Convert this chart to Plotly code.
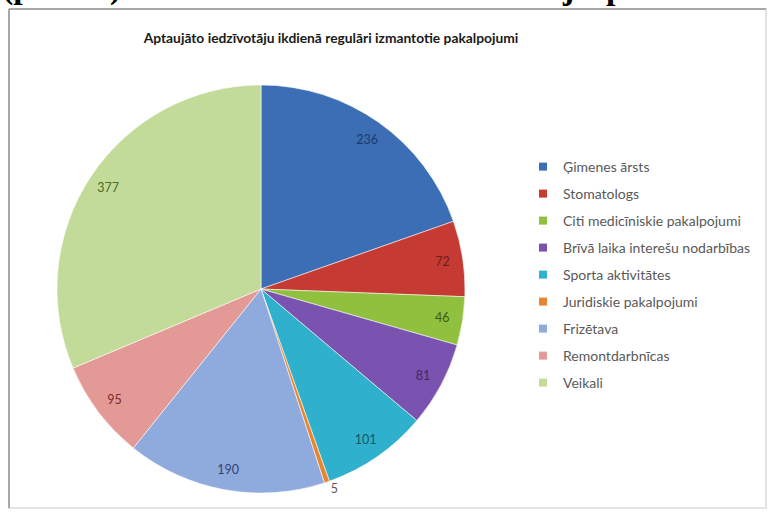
import plotly.graph_objects as go

# ---- data ----
labels = [
    "Ģimenes ārsts",
    "Stomatologs",
    "Citi medicīniskie pakalpojumi",
    "Brīvā laika interešu nodarbības",
    "Sporta aktivitātes",
    "Juridiskie pakalpojumi",
    "Frizētava",
    "Remontdarbnīcas",
    "Veikali",
]
values = [236, 72, 46, 81, 101, 5, 190, 95, 377]
title_text = "Aptaujāto iedzīvotāju ikdienā regulāri izmantotie pakalpojumi"

# ---- styles ----
slice_colors = ["#3C6EB6", "#C53A33", "#8FC03E", "#7A52B0", "#2FB0CC",
                "#E8862F", "#8FAADD", "#E39996", "#C3DB99"]
label_colors = ["#1E3A6A", "#6E1E1B", "#3E5A18", "#3E2862", "#17566A",
                "#5A5A5A", "#2F4670", "#7C2E2B", "#4E6A24"]
text_pos = ["outside" if v < 10 else "inside" for v in values]

W, H = 769, 512
cx, cy, r = 261, 289, 204
dom_x = [(cx - r) / W, (cx + r) / W]
dom_y = [1 - (cy + r) / H, 1 - (cy - r) / H]

fig = go.Figure()

# main pie
fig.add_trace(go.Pie(
    labels=labels, values=values, sort=False, direction="clockwise", rotation=0,
    marker=dict(colors=slice_colors, line=dict(color="rgba(255,255,255,0.55)", width=1)),
    textinfo="none", showlegend=False, domain=dict(x=dom_x, y=dom_y),
    hoverinfo="label+value",
))

# transparent ring carrying the value labels near the rim
fig.add_trace(go.Pie(
    labels=labels, values=values, sort=False, direction="clockwise", rotation=0,
    hole=0.8,
    marker=dict(colors=["rgba(0,0,0,0)"] * len(values), line=dict(width=0)),
    textinfo="value", textposition=text_pos, insidetextorientation="horizontal",
    textfont=dict(family="Lato", size=12.5, color=label_colors),
    showlegend=False, hoverinfo="skip", domain=dict(x=dom_x, y=dom_y),
))

# legend entries
for lab, col in zip(labels, slice_colors):
    fig.add_trace(go.Scatter(
        x=[None], y=[None], mode="markers", name=lab, legendgroup=lab,
        marker=dict(symbol="square", size=8, color=col, line=dict(width=0)),
        showlegend=True, hoverinfo="skip",
    ))

# chart border
fig.add_shape(type="rect", xref="paper", yref="paper",
              x0=9 / W, x1=766 / W, y0=1 - 508 / H, y1=1 - 9 / H,
              line=dict(color="#DADADA", width=1.5), fillcolor="rgba(0,0,0,0)", layer="below")
fig.add_shape(type="line", xref="paper", yref="paper",
              x0=9 / W, x1=9 / W, y0=1 - 508 / H, y1=1 - 9 / H,
              line=dict(color="#A8A8A8", width=2))
fig.add_shape(type="line", xref="paper", yref="paper",
              x0=9 / W, x1=766 / W, y0=1 - 9 / H, y1=1 - 9 / H,
              line=dict(color="#A8A8A8", width=2))

# clipped heading text from the page above the chart
for txt, xp in [("(p", 0), (")", 108), ("j", 560), ("p", 604)]:
    fig.add_annotation(text=txt, xref="paper", yref="paper", x=xp / W, y=1 - 8 / H,
                       xanchor="left", yanchor="bottom", showarrow=False,
                       font=dict(family="Liberation Serif", size=34, color="black", weight="bold"))

fig.update_layout(
    width=W, height=H,
    margin=dict(l=0, r=0, t=0, b=0),
    paper_bgcolor="white", plot_bgcolor="white",
    title=dict(text=title_text, x=331 / W, y=1 - 38 / H, xanchor="center", yanchor="middle",
               font=dict(family="Lato", size=13.8, color="#1A1A1A", weight="bold")),
    xaxis=dict(visible=False), yaxis=dict(visible=False),
    legend=dict(x=523 / W, y=1 - 151 / H, xanchor="left", yanchor="top",
                font=dict(family="Lato", size=14, color="#595959"),
                tracegroupgap=5.8, bgcolor="rgba(0,0,0,0)", itemclick=False),
    showlegend=True,
)

fig.write_html("out.html", config={"displayModeBar": False},
               post_script="document.body.style.margin='0';")
